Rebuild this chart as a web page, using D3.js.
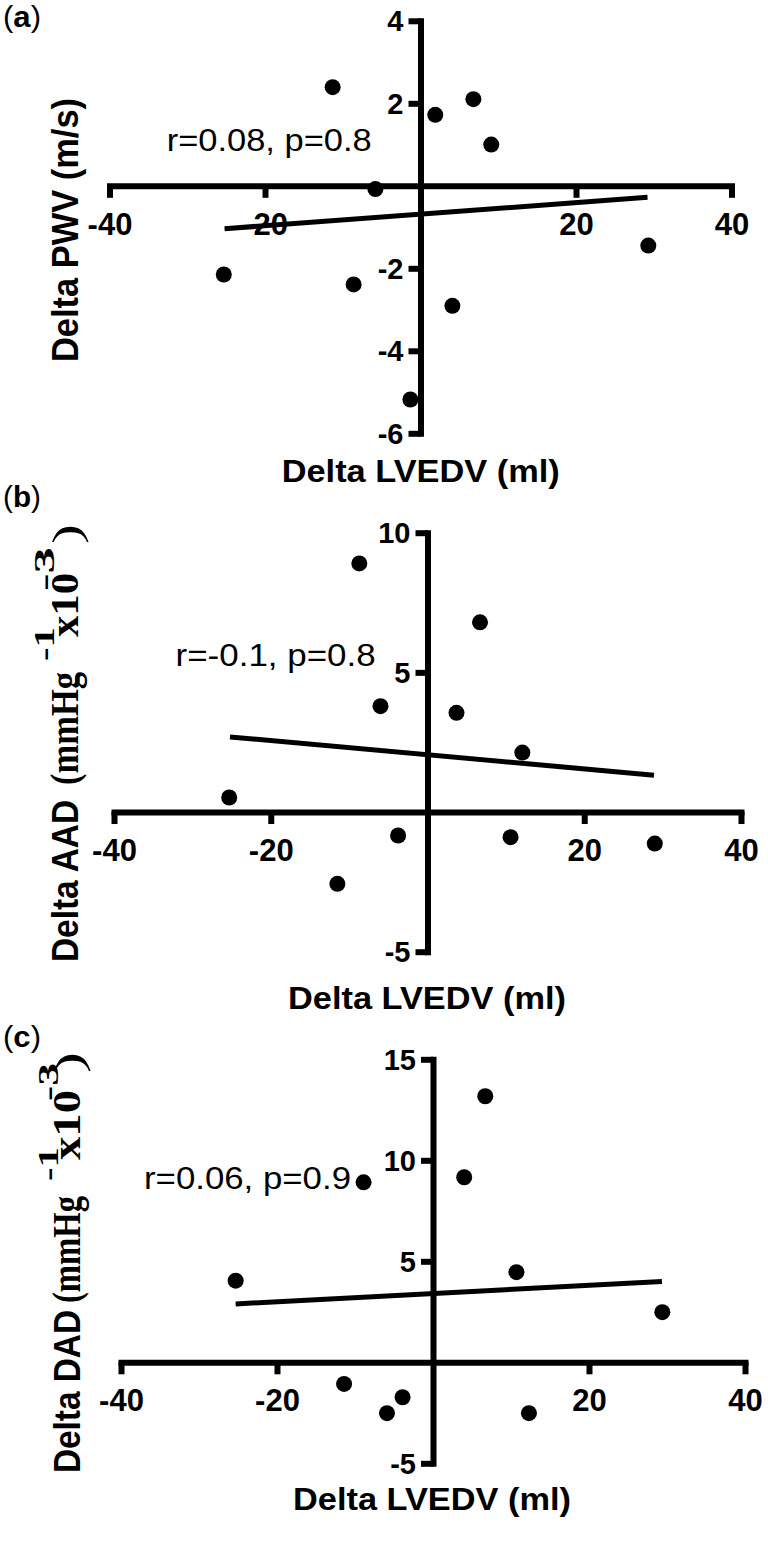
<!DOCTYPE html>
<html><head><meta charset="utf-8">
<script src="https://cdn.jsdelivr.net/npm/d3@7"></script>
<style>body{margin:0;background:#fff} svg{display:block}</style>
</head><body>
<svg id="chart" width="768" height="1544"></svg>
<script>
// ---------- data ----------
const xTickValues = [-40, -20, 20, 40];
const xTitle = "Delta LVEDV (ml)";

// panel (a)
const lvedvA = [-11.3, 1.9, 6.8, 9.1, -5.8, 29.3, -25.3, -8.6, 4.1, -1.3];
const pwv    = [2.39, 1.72, 2.10, 1.00, -0.08, -1.45, -2.15, -2.39, -2.91, -5.18];
const fitXA  = [-25.2, 29.2];
const fitYA  = [-1.04, -0.28];
const yTicksA = [4, 2, -2, -4, -6];
const statA  = "r=0.08, p=0.8";

// panel (b)
const lvedvB = [-8.7, 6.7, -6.0, 3.7, 12.1, -25.3, -3.75, 10.6, 29.0, -11.5];
const aad    = [8.9, 6.79, 3.79, 3.55, 2.13, 0.52, -0.84, -0.9, -1.13, -2.57];
const fitXB  = [-25.2, 28.9];
const fitYB  = [2.69, 1.32];
const yTicksB = [10, 5, -5];
const statB  = "r=-0.1, p=0.8";

// panel (c)
const lvedvC = [6.7, 4.0, -8.9, 10.7, -25.3, 29.4, -11.4, -3.9, -5.9, 12.3];
const dad    = [13.17, 9.16, 8.91, 4.46, 4.04, 2.48, -1.07, -1.73, -2.52, -2.52];
const fitXC  = [-25.3, 29.35];
const fitYC  = [2.89, 4.0];
const yTicksC = [15, 10, 5, -5];
const statC  = "r=0.06, p=0.9";

// ---------- layout ----------
const SANS = "'Liberation Sans', Arial, sans-serif";
const SERIF = "'Liberation Serif', 'Times New Roman', serif";

const panels = [
  { tag: "a", xs: lvedvA, ys: pwv, fx: fitXA, fy: fitYA, yTicks: yTicksA, yDomain: [-6, 4], stat: statA,
    xRange: [109.5, 731.5], yRange: [433.3, 20.8],
    tagPos: [3, 27], statPos: [166.7, 151, 205], xTitlePos: [281.7, 481.5, 278],
    yTitle: { bx: 78, segs: [{ t: "Delta PWV (m/s)", y0: 362, len: 264, f: SANS, fs: 37, w: "bold", dv: 0 }] } },
  { tag: "b", xs: lvedvB, ys: aad, fx: fitXB, fy: fitYB, yTicks: yTicksB, yDomain: [-5, 10], stat: statB,
    xRange: [114, 741], yRange: [951.7, 532.7],
    tagPos: [3, 507], statPos: [175.6, 666, 200], xTitlePos: [288, 1009, 278],
    yTitle: { bx: 78, segs: [
      { t: "Delta AAD", y0: 962, len: 162, f: SANS, fs: 37, w: "bold", dv: 0 },
      { t: "(mmHg", y0: 785, len: 113, f: SERIF, fs: 41, w: "bold", dv: 0 },
      { t: "-1", y0: 661, len: 34, f: SERIF, fs: 30, w: "bold", dv: -24 },
      { t: "x10", y0: 637, len: 64, f: SERIF, fs: 41, w: "bold", dv: 0 },
      { t: "-3", y0: 591, len: 44, f: SERIF, fs: 30, w: "bold", dv: -24 },
      { t: ")", y0: 544, len: 20, f: SERIF, fs: 40, w: "normal", dv: 2 } ] } },
  { tag: "c", xs: lvedvC, ys: dad, fx: fitXC, fy: fitYC, yTicks: yTicksC, yDomain: [-5, 15], stat: statC,
    xRange: [121, 745], yRange: [1463.3, 1059.3],
    tagPos: [3, 1047], statPos: [144, 1189, 207], xTitlePos: [293, 1510, 278],
    yTitle: { bx: 80, segs: [
      { t: "Delta DAD", y0: 1473, len: 163, f: SANS, fs: 37, w: "bold", dv: 0 },
      { t: "(mmHg", y0: 1303, len: 107, f: SERIF, fs: 41, w: "bold", dv: 0 },
      { t: "-1", y0: 1181, len: 34, f: SERIF, fs: 30, w: "bold", dv: -22 },
      { t: "x10", y0: 1160, len: 70, f: SERIF, fs: 41, w: "bold", dv: 0 },
      { t: "-3", y0: 1101, len: 38, f: SERIF, fs: 30, w: "bold", dv: -22 },
      { t: ")", y0: 1073, len: 21, f: SERIF, fs: 40, w: "normal", dv: 2 } ] } }
];

const svg = d3.select("#chart");
const fmt = d => String(d);  // plain hyphen-minus like the reference

panels.forEach(p => {
  const x = d3.scaleLinear().domain([-40, 40]).range(p.xRange);
  const y = d3.scaleLinear().domain(p.yDomain).range(p.yRange);
  const g = svg.append("g");

  // x axis
  const xa = g.append("g").attr("transform", `translate(0,${y(0)})`)
    .call(d3.axisBottom(x).tickValues(xTickValues).tickSize(12).tickSizeOuter(0).tickFormat(fmt));
  // y axis
  const ya = g.append("g").attr("transform", `translate(${x(0)},0)`)
    .call(d3.axisLeft(y).tickValues(p.yTicks).tickSize(12).tickSizeOuter(0).tickFormat(fmt));

  [xa, ya].forEach(a => {
    a.select(".domain").attr("stroke", "#000").attr("stroke-width", 6).attr("stroke-linecap", "square");
    a.selectAll(".tick line").attr("stroke", "#000").attr("stroke-width", 6);
    a.selectAll(".tick text").attr("fill", "#000").style("font-family", SANS).style("font-weight", "bold");
  });
  xa.selectAll(".tick text").style("font-size", "31px").attr("y", 49).attr("dy", null);
  ya.selectAll(".tick text").style("font-size", "29px").attr("x", -17).attr("dy", "0.35em");

  // fit line
  const fit = p.fx.map((v, i) => [v, p.fy[i]]);
  g.append("path").datum(fit)
    .attr("d", d3.line().x(d => x(d[0])).y(d => y(d[1])))
    .attr("stroke", "#000").attr("stroke-width", 5).attr("fill", "none");

  // points
  g.selectAll("circle.pt").data(p.xs.map((v, i) => [v, p.ys[i]])).join("circle")
    .attr("class", "pt").attr("cx", d => x(d[0])).attr("cy", d => y(d[1])).attr("r", 8).attr("fill", "#000");

  // stat text
  g.append("text").attr("x", p.statPos[0]).attr("y", p.statPos[1])
    .attr("textLength", p.statPos[2]).attr("lengthAdjust", "spacingAndGlyphs")
    .style("font-family", SANS).style("font-size", "31px").text(p.stat);

  // x title
  g.append("text").attr("x", p.xTitlePos[0]).attr("y", p.xTitlePos[1])
    .attr("textLength", p.xTitlePos[2]).attr("lengthAdjust", "spacingAndGlyphs")
    .style("font-family", SANS).style("font-size", "31px").style("font-weight", "bold").text(xTitle);

  // panel tag
  const tg = g.append("text").attr("x", p.tagPos[0]).attr("y", p.tagPos[1])
    .attr("textLength", 38).attr("lengthAdjust", "spacingAndGlyphs")
    .style("font-family", SANS).style("font-size", "30px");
  tg.append("tspan").text("(");
  tg.append("tspan").style("font-weight", "bold").text(p.tag);
  tg.append("tspan").text(")");

  // y title (rotated segments)
  p.yTitle.segs.forEach(s => {
    g.append("text")
      .attr("transform", `translate(${p.yTitle.bx + s.dv},${s.y0}) rotate(-90)`)
      .attr("textLength", s.len).attr("lengthAdjust", "spacingAndGlyphs")
      .style("font-family", s.f).style("font-size", s.fs + "px").style("font-weight", s.w)
      .text(s.t);
  });
});
</script>
</body></html>
